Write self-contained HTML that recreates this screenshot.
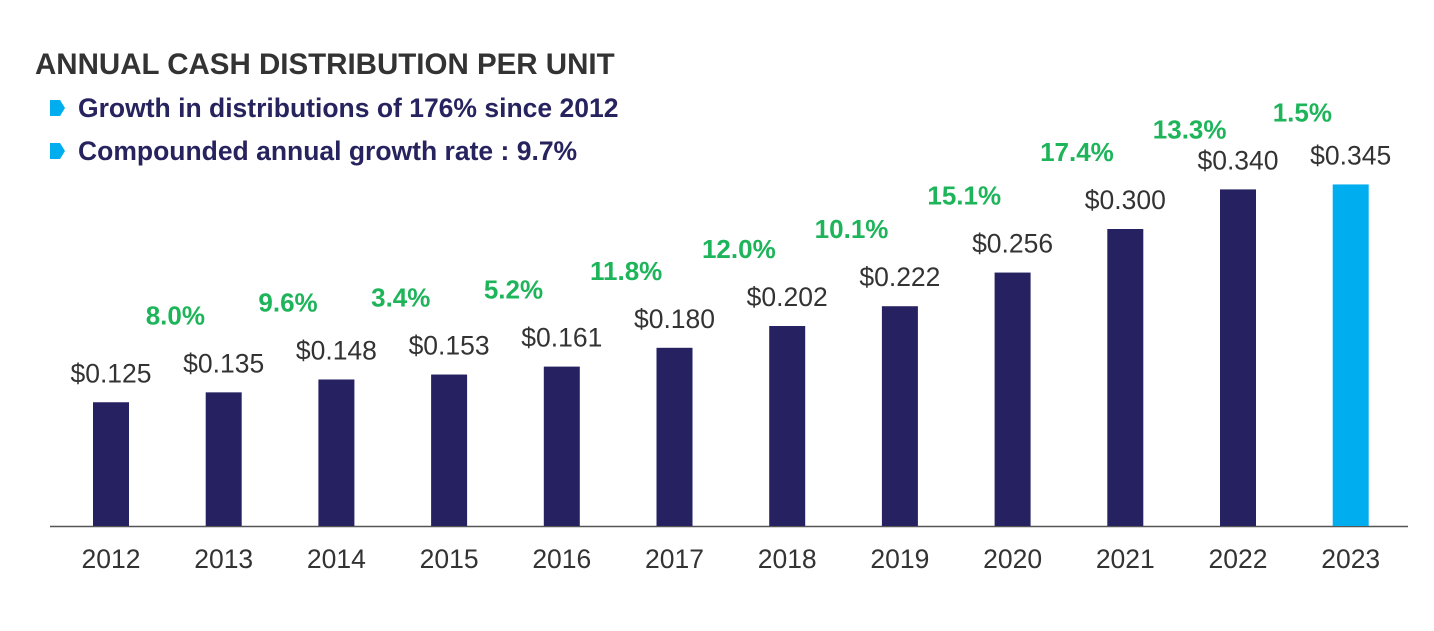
<!DOCTYPE html>
<html><head><meta charset="utf-8">
<style>
html,body{margin:0;padding:0;background:#fff;}
body{width:1434px;height:626px;overflow:hidden;font-family:"Liberation Sans",Arial,sans-serif;}
</style></head>
<body>
<svg width="1434" height="626" xmlns="http://www.w3.org/2000/svg">
<text x="35" y="74" font-size="29.5" font-weight="bold" fill="#333">ANNUAL CASH DISTRIBUTION PER UNIT</text>
<polygon points="50,100 60,100 65,108 60,116 50,116" fill="#00aeef"/>
<text x="78" y="117" font-size="26.5" font-weight="bold" fill="#27235f">Growth in distributions of 176% since 2012</text>
<polygon points="50,143 60,143 65,151 60,159 50,159" fill="#00aeef"/>
<text x="78" y="160" font-size="26.5" font-weight="bold" fill="#27235f">Compounded annual growth rate : 9.7%</text>
<line x1="50" y1="526.5" x2="1408" y2="526.5" stroke="#555" stroke-width="1.5"/>
<g id="marks"></g>
</svg>
<script>
const years = ["2012","2013","2014","2015","2016","2017","2018","2019","2020","2021","2022","2023"];
const values = [0.125,0.135,0.148,0.153,0.161,0.180,0.202,0.222,0.256,0.300,0.340,0.345];
const valueLabels = ["$0.125","$0.135","$0.148","$0.153","$0.161","$0.180","$0.202","$0.222","$0.256","$0.300","$0.340","$0.345"];
const growthLabels = ["8.0%","9.6%","3.4%","5.2%","11.8%","12.0%","10.1%","15.1%","17.4%","13.3%","1.5%"];

const NS="http://www.w3.org/2000/svg";
const g=document.getElementById('marks');
const baseY=526, scale=990, x0=111, step=112.7, bw=36;
const xPos=i=>x0+i*step;
const yPos=v=>baseY-v*scale;
function mk(tag,attrs,txt){const e=document.createElementNS(NS,tag);for(const k in attrs)e.setAttribute(k,attrs[k]);if(txt!==undefined)e.textContent=txt;g.appendChild(e);return e;}
values.forEach((v,i)=>{
  const r=mk('rect',{x:xPos(i)-bw/2,y:yPos(v),width:bw,height:baseY-yPos(v),fill:i===values.length-1?'#00aeef':'#262262'});
  
  
  const t=mk('text',{x:xPos(i),y:yPos(v)-20,'text-anchor':'middle','font-size':26.5,fill:'#333'},valueLabels[i]);
  
  
  const yl=mk('text',{x:xPos(i),y:568,'text-anchor':'middle','font-size':26.5,fill:'#333'},years[i]);
  
  
});
growthLabels.forEach((gl,i)=>{
  const xm=(xPos(i)+xPos(i+1))/2+8;
  let lift=68;
  if(i===growthLabels.length-2) lift=51;
  if(i===growthLabels.length-1) lift=63;
  const y=yPos(values[i+1])-lift;
  const t=mk('text',{x:xm,y:y,'text-anchor':'middle','font-size':26,'font-weight':'bold',fill:'#1db45a'},gl);
  
  
});
</script>
</body></html>
